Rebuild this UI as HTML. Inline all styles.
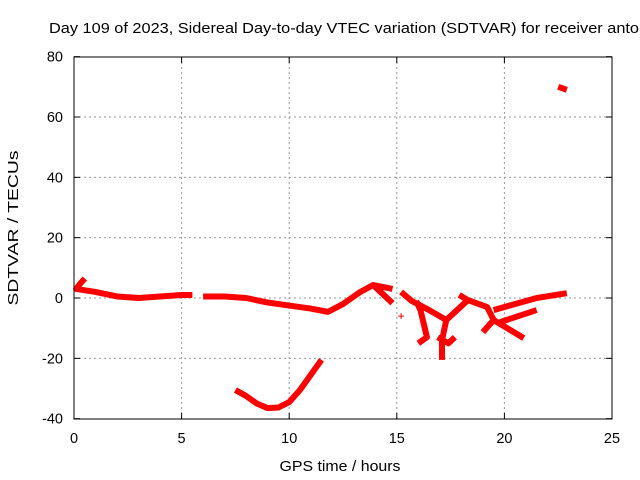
<!DOCTYPE html>
<html><head><meta charset="utf-8"><style>
body{margin:0;background:#fff}
svg{display:block;font-family:"Liberation Sans",sans-serif;font-size:14.5px}
</style></head><body>
<svg id="chart" width="640" height="480" viewBox="0 0 640 480">
<rect width="640" height="480" fill="#fff"/>
<text x="49" y="33" textLength="590" lengthAdjust="spacingAndGlyphs">Day 109 of 2023, Sidereal Day-to-day VTEC variation (SDTVAR) for receiver anto</text>
<g id="grid"></g>
<g id="ticks"></g>
<g id="series"></g>
<rect x="74" y="57" width="538" height="362" fill="none" stroke="#000" stroke-width="1"/>
<text x="340" y="471" text-anchor="middle" textLength="121" lengthAdjust="spacingAndGlyphs">GPS time / hours</text>
<text transform="translate(18,228) rotate(-90)" text-anchor="middle" textLength="155" lengthAdjust="spacingAndGlyphs">SDTVAR / TECUs</text>
</svg>
<script>
const xTicks=[0,5,10,15,20,25];
const yTicks=[-40,-20,0,20,40,60,80];
const mainLine=[[0.5,6.5],[0.2,4],[0.1,3],[1,2],[2,0.5],[3,0],[4,0.5],[5,1],[5.5,1]];
const mainLine2=[[6,0.5],[7,0.5],[8,0],[9,-1.5],[10,-2.5],[11,-3.5],[11.8,-4.6],[12.5,-2],[13.3,2],[13.9,4.3],[14.8,3]];
const branchA=[[13.9,4.3],[14.8,-1.7]];
const uCurve=[[7.5,-30.5],[8.0,-32.5],[8.5,-35],[9.0,-36.5],[9.5,-36.3],[10.0,-34.5],[10.5,-30.5],[11.0,-25.5],[11.5,-20.5]];
const rightBlob=[[15.2,2],[15.7,-1],[16.5,-4],[17.3,-7.3],[17.1,-14],[17.1,-20.5]];
const rightLower=[[15.9,-1],[16.1,-4],[16.4,-13],[16,-15]];
const rightMid=[[16.9,-13],[17.4,-15],[17.7,-13]];
const rightUp=[[17.3,-7.3],[18.3,-0.7],[17.9,1]];
const rightArc=[[18.3,-0.7],[19.2,-3],[19.5,-7.3],[19,-11.3]];
const rightLow2=[[19.5,-7.3],[20.9,-13.3]];
const rightTop=[[19.5,-4],[20.5,-2],[21.5,0],[22.9,1.6]];
const rightMid2=[[19.8,-8],[21.5,-4]];
const topRight=[[22.5,70],[22.9,69]];
const isolated=[[15.2,-6]];
const X=t=>74+t*538/25, Y=v=>298-v*362/120;
const NS='http://www.w3.org/2000/svg';
const grid=document.getElementById('grid'), ticks=document.getElementById('ticks'), ser=document.getElementById('series');
function mk(tag,attrs,parent){const e=document.createElementNS(NS,tag);for(const k in attrs)e.setAttribute(k,attrs[k]);parent.appendChild(e);return e;}
xTicks.forEach(t=>{
 if(t>0&&t<25){const g=mk('line',{x1:X(t),x2:X(t),y1:57,y2:419,stroke:'#999','stroke-dasharray':'2,3'},grid);
 
 }
 const l=mk('text',{x:X(t),y:443,'text-anchor':'middle'},ticks);l.textContent=t;
 
 
 mk('line',{x1:X(t),x2:X(t),y1:419,y2:413,stroke:'#000'},ticks);
 mk('line',{x1:X(t),x2:X(t),y1:57,y2:63,stroke:'#000'},ticks);
});
yTicks.forEach(v=>{
 if(v>-40&&v<80){const g=mk('line',{x1:74,x2:612,y1:Y(v),y2:Y(v),stroke:'#999','stroke-dasharray':'2,3'},grid);
 
 }
 const l=mk('text',{x:63,y:Y(v)+5,'text-anchor':'end'},ticks);l.textContent=v;
 
 
 mk('line',{x1:74,x2:80,y1:Y(v),y2:Y(v),stroke:'#000'},ticks);
 mk('line',{x1:612,x2:606,y1:Y(v),y2:Y(v),stroke:'#000'},ticks);
});
[[mainLine,'main-series'],[mainLine2,'main-series-2'],[branchA,'branch-series'],[uCurve,'u-curve-series'],[rightBlob,'right-series-1'],[rightLower,'right-series-2'],[rightMid,'right-series-3'],[rightUp,'right-series-4'],[rightArc,'right-series-5'],[rightLow2,'right-series-6'],[rightTop,'right-series-7'],[rightMid2,'right-series-8'],[topRight,'top-right-series']].forEach(([d,n])=>{
 const p=mk('polyline',{points:d.map(q=>X(q[0])+','+Y(q[1])).join(' '),fill:'none',stroke:'#f00','stroke-width':6,'stroke-linejoin':'round','stroke-linecap':'butt'},ser);
 
 
});
isolated.forEach(q=>{
 const p=mk('path',{d:`M${X(q[0])-3},${Y(q[1])}h6M${X(q[0])},${Y(q[1])-3}v6`,stroke:'#f00','stroke-width':1},ser);
 
 
});
</script>
</body></html>
